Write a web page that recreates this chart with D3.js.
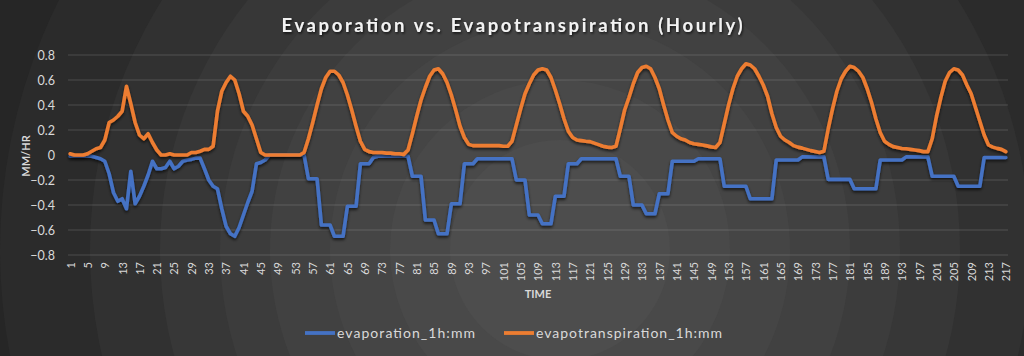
<!DOCTYPE html>
<html><head><meta charset="utf-8">
<script src="https://cdn.jsdelivr.net/npm/d3@7"></script>
<style>html,body{margin:0;padding:0;background:#262626;}svg{display:block;}</style>
</head><body>
<svg id="chart" width="1024" height="356"></svg>
<script>
const title = "Evaporation vs. Evapotranspiration (Hourly)";
const yTicks = [-0.8,-0.6,-0.4,-0.2,0,0.2,0.4,0.6,0.8];
const seriesNames = ["evaporation_1h:mm","evapotranspiration_1h:mm"];
const seriesColors = ["#4472C4","#ED7D31"];
const evaporation = [
-0.01,-0.01,-0.01,-0.01,-0.01,-0.01,-0.02,-0.03,-0.05,-0.15,
-0.30,-0.37,-0.35,-0.43,-0.13,-0.39,-0.33,-0.25,-0.16,-0.05,
-0.11,-0.11,-0.10,-0.05,-0.11,-0.09,-0.05,-0.04,-0.035,-0.025,
-0.025,-0.11,-0.20,-0.25,-0.27,-0.43,-0.57,-0.63,-0.65,-0.58,
-0.48,-0.38,-0.29,-0.07,-0.06,-0.04,0,0,0,0,
0,0,0,0,0,-0.19,-0.19,-0.19,-0.56,-0.56,
-0.56,-0.65,-0.65,-0.65,-0.41,-0.41,-0.41,-0.07,-0.07,-0.07,
-0.02,-0.01,-0.01,-0.01,-0.01,-0.01,-0.01,-0.01,-0.01,-0.17,
-0.17,-0.17,-0.52,-0.52,-0.52,-0.63,-0.63,-0.63,-0.39,-0.39,
-0.39,-0.07,-0.07,-0.07,-0.03,-0.03,-0.03,-0.03,-0.03,-0.03,
-0.03,-0.03,-0.03,-0.20,-0.20,-0.20,-0.48,-0.48,-0.48,-0.55,
-0.55,-0.55,-0.33,-0.33,-0.33,-0.07,-0.07,-0.07,-0.03,-0.03,
-0.03,-0.03,-0.03,-0.03,-0.03,-0.03,-0.03,-0.17,-0.17,-0.17,
-0.40,-0.40,-0.40,-0.47,-0.47,-0.47,-0.31,-0.31,-0.31,-0.05,
-0.05,-0.05,-0.05,-0.05,-0.05,-0.03,-0.03,-0.03,-0.03,-0.03,
-0.03,-0.25,-0.25,-0.25,-0.25,-0.25,-0.25,-0.35,-0.35,-0.35,
-0.35,-0.35,-0.35,-0.04,-0.04,-0.04,-0.04,-0.04,-0.04,-0.015,
-0.015,-0.015,-0.015,-0.015,-0.015,-0.195,-0.195,-0.195,-0.195,-0.195,
-0.195,-0.27,-0.27,-0.27,-0.27,-0.27,-0.27,-0.04,-0.04,-0.04,
-0.04,-0.04,-0.04,-0.015,-0.015,-0.015,-0.015,-0.015,-0.015,-0.17,
-0.17,-0.17,-0.17,-0.17,-0.17,-0.25,-0.25,-0.25,-0.25,-0.25,
-0.25,-0.02,-0.02,-0.02,-0.02,-0.02,-0.02
];
const evapotranspiration = [
0.01,0,0,0,0.01,0.03,0.05,0.06,0.12,0.26,
0.28,0.31,0.35,0.55,0.41,0.26,0.16,0.13,0.17,0.10,
0.04,0,0,0.01,0,0,0,0,0.02,0.02,
0.03,0.045,0.045,0.07,0.35,0.51,0.58,0.63,0.60,0.49,
0.35,0.31,0.24,0.13,0.02,0,0,0,0,0,
0,0,0,0,0.02,0.13,0.26,0.40,0.53,0.62,
0.67,0.67,0.64,0.58,0.48,0.36,0.23,0.11,0.045,0.027,
0.02,0.02,0.02,0.015,0.015,0.01,0.01,0.005,0.04,0.17,
0.31,0.44,0.54,0.63,0.68,0.69,0.65,0.58,0.48,0.36,
0.23,0.14,0.085,0.075,0.075,0.075,0.075,0.075,0.075,0.075,
0.07,0.07,0.11,0.24,0.37,0.49,0.57,0.64,0.68,0.69,
0.68,0.62,0.52,0.41,0.29,0.19,0.14,0.12,0.115,0.11,
0.107,0.095,0.083,0.07,0.063,0.06,0.07,0.21,0.36,0.46,
0.57,0.66,0.70,0.71,0.69,0.62,0.53,0.40,0.28,0.18,
0.15,0.13,0.12,0.10,0.09,0.085,0.08,0.073,0.065,0.06,
0.10,0.25,0.40,0.53,0.63,0.69,0.73,0.72,0.69,0.63,
0.56,0.47,0.33,0.22,0.15,0.12,0.10,0.075,0.063,0.055,
0.045,0.035,0.028,0.02,0.03,0.21,0.37,0.51,0.61,0.67,
0.71,0.70,0.67,0.62,0.53,0.42,0.29,0.18,0.11,0.085,
0.067,0.06,0.052,0.05,0.045,0.04,0.035,0.027,0.027,0.13,
0.31,0.46,0.59,0.66,0.69,0.68,0.64,0.56,0.49,0.38,
0.27,0.16,0.08,0.063,0.053,0.045,0.027
];
const categories = evaporation.map((d,i)=>i+1);
const xTickLabels = categories.filter(c => (c-1)%4===0);

const W=1024,H=356;
const L=68,R=1008,T=55,B=255;
const svg=d3.select("#chart");
const FONT="Lato, 'Open Sans', sans-serif";

// background rings
const bg = svg.append("g");
const rings = [[700,"#262626"],[560,"#2b2b2b"],[470,"#313131"],[400,"#373737"],[340,"#3c3c3c"],[290,"#414141"],[230,"#454545"],[170,"#494949"],[110,"#4d4d4d"]];
bg.append("rect").attr("width",W).attr("height",H).attr("fill","#232323");
bg.selectAll("circle").data(rings).join("circle")
  .attr("cx",560).attr("cy",250).attr("r",d=>d[0]).attr("fill",d=>d[1]);

const defs=svg.append("defs");
const f=defs.append("filter").attr("id","sh").attr("x","-5%").attr("y","-20%").attr("width","110%").attr("height","140%");
f.append("feDropShadow").attr("dx",0).attr("dy",2).attr("stdDeviation",1.6).attr("flood-color","#000").attr("flood-opacity",0.65);
const ft=defs.append("filter").attr("id","tsh");
ft.append("feDropShadow").attr("dx",1).attr("dy",1.5).attr("stdDeviation",1).attr("flood-color","#000").attr("flood-opacity",0.7);

const x=d3.scalePoint().domain(categories).range([L,R]).padding(0.5);
const y=d3.scaleLinear().domain([-0.8,0.8]).range([B,T]);

// gridlines
svg.append("g").selectAll("line").data(yTicks.filter(v=>v!==0)).join("line")
  .attr("x1",L).attr("x2",R).attr("y1",d=>y(d)).attr("y2",d=>y(d))
  .attr("stroke","rgba(255,255,255,0.16)").attr("stroke-width",1);

// y axis labels
const yAxis = svg.append("g").attr("transform",`translate(${L-10},0)`)
  .call(d3.axisLeft(y).tickValues(yTicks).tickSize(0).tickFormat(d=>d===0?"0":d3.format("")(+d.toFixed(1))));
yAxis.select(".domain").remove();
yAxis.selectAll("text").attr("fill","#d9d9d9").attr("font-size",12.5).attr("font-family",FONT).attr("dx",0);

// x axis labels
const xAxis = svg.append("g").attr("transform",`translate(0,${B+7})`)
  .call(d3.axisBottom(x).tickValues(xTickLabels).tickSize(0));
xAxis.select(".domain").remove();
xAxis.selectAll("text").attr("fill","#d9d9d9").attr("font-size",11).attr("font-family",FONT)
  .attr("transform","rotate(-90)").attr("text-anchor","end").attr("x",0).attr("y",0).attr("dy","0.35em").attr("dx",0);

// zero axis line
svg.append("line").attr("x1",L).attr("x2",R).attr("y1",y(0)).attr("y2",y(0))
  .attr("stroke","#ffffff").attr("stroke-width",3).attr("filter","url(#sh)");

// series
const line=d3.line().x((d,i)=>x(categories[i])).y(d=>y(d));
[evaporation,evapotranspiration].forEach((s,k)=>{
  svg.append("path").datum(s).attr("d",line).attr("fill","none")
    .attr("stroke",seriesColors[k]).attr("stroke-width",3.6)
    .attr("stroke-linejoin","round").attr("stroke-linecap","round").attr("filter","url(#sh)");
});

// title
svg.append("text").attr("x",512).attr("y",32).attr("text-anchor","middle")
  .attr("font-family",FONT).attr("font-size",18.5).attr("font-weight","bold")
  .attr("fill","#f2f2f2").attr("textLength",461).attr("lengthAdjust","spacing")
  .attr("filter","url(#tsh)").text(title);

// axis titles
svg.append("text").attr("transform","translate(30,156) rotate(-90)").attr("text-anchor","middle")
  .attr("font-family",FONT).attr("font-size",11).attr("font-weight","bold").attr("fill","#d9d9d9").text("MM/HR");
svg.append("text").attr("x",538).attr("y",298).attr("text-anchor","middle")
  .attr("font-family",FONT).attr("font-size",11).attr("font-weight","bold").attr("fill","#d9d9d9").text("TIME");

// legend
const legendX=[305,504], legendLen=[138,186];
seriesNames.forEach((n,k)=>{
  svg.append("line").attr("x1",legendX[k]).attr("x2",legendX[k]+30).attr("y1",333).attr("y2",333)
    .attr("stroke",seriesColors[k]).attr("stroke-width",3.8);
  svg.append("text").attr("x",legendX[k]+32).attr("y",338).attr("font-family",FONT).attr("font-size",14)
    .attr("fill","#d9d9d9").attr("textLength",legendLen[k]).attr("lengthAdjust","spacing").text(n);
});
</script>
</body></html>
